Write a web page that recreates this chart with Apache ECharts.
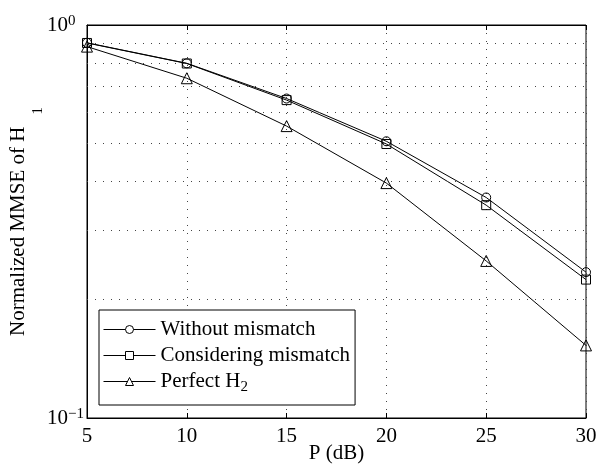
<!DOCTYPE html>
<html><head><meta charset="utf-8">
<script src="https://cdn.jsdelivr.net/npm/echarts@6/dist/echarts.min.js"></script>
<style>html,body{margin:0;padding:0;background:#fff}#c{width:597px;height:466px}</style>
</head><body><div id="c"></div>
<script>
const pValues = [5, 10, 15, 20, 25, 30];
const withoutMismatch = [0.901, 0.799, 0.650, 0.506, 0.364, 0.235];
const consideringMismatch = [0.900, 0.798, 0.644, 0.498, 0.348, 0.225];
const perfectH2 = [0.881, 0.732, 0.553, 0.396, 0.251, 0.153];
const seriesNames = ['Without mismatch', 'Considering mismatch', 'Perfect H2'];
const gridValues = [0.2, 0.3, 0.4, 0.5, 0.6, 0.7, 0.8, 0.9];
const FONT = 'Liberation Serif';

const chart = echarts.init(document.getElementById('c'), null, {renderer: 'canvas'});
function mk(name, data, symbol, extra) {
  return Object.assign({
    name, type: 'line', data: pValues.map((x, i) => [x, data[i]]),
    symbol, symbolSize: symbol === 'triangle' ? 11 : 9,
    lineStyle: {color: '#000', width: 1},
    itemStyle: {color: 'rgba(255,255,255,0)', borderColor: '#000', borderWidth: 1},
    emphasis: {disabled: true}, animation: false
  }, extra || {});
}
chart.setOption({
  animation: false,
  grid: {left: 87, right: 11, top: 25, bottom: 48, containLabel: false, outerBoundsMode: 'none',
    show: true, borderColor: '#000', borderWidth: 1, backgroundColor: 'transparent'},
  xAxis: [{
    type: 'value', min: 5, max: 30, interval: 5,
    name: 'P (dB)', nameLocation: 'middle', nameGap: 25, nameMoveOverlap: false,
    nameTextStyle: {fontFamily: FONT, fontSize: 21, color: '#000'},
    axisLine: {show: true, lineStyle: {color: '#000'}},
    axisTick: {show: true, inside: true, length: 5, lineStyle: {color: '#000'}},
    axisLabel: {fontFamily: FONT, fontSize: 21, color: '#000', margin: 8},
    splitLine: {show: true, lineStyle: {color: '#444', type: [1, 7], width: 1}}
  }, {
    type: 'value', position: 'top', min: 5, max: 30, interval: 5,
    axisLine: {show: true, lineStyle: {color: '#000'}},
    axisTick: {show: true, inside: true, length: 5, lineStyle: {color: '#000'}},
    axisLabel: {show: false}, splitLine: {show: false}
  }],
  yAxis: {
    type: 'log', logBase: 10, min: 0.1, max: 1,
    name: '{n|Normalized MMSE of H}{s|1}', nameLocation: 'middle', nameGap: 48, nameMoveOverlap: false,
    nameTextStyle: {fontFamily: FONT, fontSize: 21, color: '#000',
      rich: {n: {fontFamily: FONT, fontSize: 21, lineHeight: 22, color: '#000', padding: [0, 0, 20, 0]},
             s: {fontFamily: FONT, fontSize: 15, lineHeight: 15, color: '#000', padding: [20, 0, 0, 12]}}},
    axisLine: {show: true, lineStyle: {color: '#000'}},
    axisTick: {show: true, inside: true, length: 5, lineStyle: {color: '#000'}},
    axisLabel: {
      margin: 40, align: 'left', fontFamily: FONT, fontSize: 21, color: '#000',
      formatter: v => v >= 0.99 ? '{b|10}{s|0}' : '{b|10}{s|−1}',
      rich: {b: {fontFamily: FONT, fontSize: 21, lineHeight: 22, color: '#000', padding: [6, 0, 6, 0]},
             s: {fontFamily: FONT, fontSize: 15, lineHeight: 15, color: '#000', verticalAlign: 'top'}}
    },
    splitLine: {show: false}
  },
  legend: {
    left: 99, top: 310, orient: 'vertical',
    data: seriesNames,
    backgroundColor: '#fff', borderColor: '#000', borderWidth: 1,
    padding: [9, 5, 10, 4], itemGap: 5, itemWidth: 52, itemHeight: 10,
    itemStyle: {color: '#fff', borderColor: '#000', borderWidth: 1},
    lineStyle: {width: 1, color: '#000'},
    formatter: n => n === 'Perfect H2' ? '{t|Perfect H}{s|2}' : '{t|' + n + '}',
    textStyle: {fontFamily: FONT, fontSize: 21, color: '#000',
      rich: {t: {fontFamily: FONT, fontSize: 21, color: '#000', lineHeight: 22}, s: {fontFamily: FONT, fontSize: 15, color: '#000', padding: [12, 0, 0, 0]}}}
  },
  series: [
    mk(seriesNames[0], withoutMismatch, 'circle', {
      markLine: {symbol: 'none', silent: true, label: {show: false}, animation: false,
        lineStyle: {color: '#444', type: [1, 7], width: 1},
        data: gridValues.map(v => ({yAxis: v}))}
    }),
    mk(seriesNames[1], consideringMismatch, 'rect'),
    mk(seriesNames[2], perfectH2, 'triangle')
  ]
});
</script></body></html>
